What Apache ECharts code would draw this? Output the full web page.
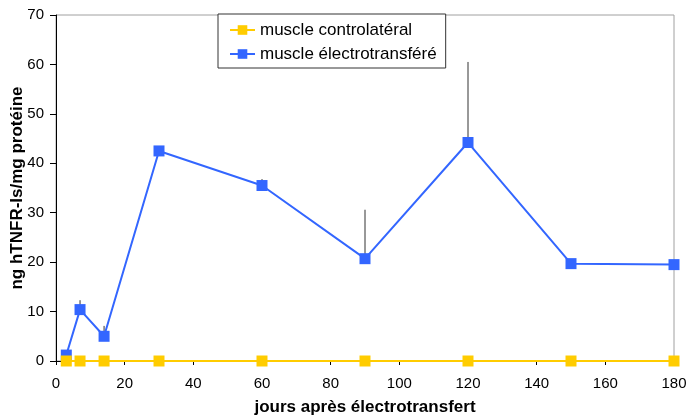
<!DOCTYPE html>
<html>
<head>
<meta charset="utf-8">
<script src="https://cdn.jsdelivr.net/npm/echarts@6/dist/echarts.min.js"></script>
<style>html,body{margin:0;padding:0;background:#fff}#c{width:686px;height:418px}</style>
</head>
<body>
<div id="c"></div>
<script>
var days = [3, 7, 14, 30, 60, 90, 120, 150, 180];
var controlateral = [0, 0, 0, 0, 0, 0, 0, 0, 0];
var electro = [1.2, 10.4, 5.0, 42.5, 35.5, 20.7, 44.2, 19.7, 19.5];
var electroErrTop = [1.2, 12.3, 7.1, 42.5, 36.8, 30.6, 60.5, 19.7, 19.5];
var xTicks = [0, 20, 40, 60, 80, 100, 120, 140, 160, 180];
var yTicks = [0, 10, 20, 30, 40, 50, 60, 70];

var FONT = 'Liberation Sans, Arial, sans-serif';
var chart = echarts.init(document.getElementById('c'));
var errData = days.map(function (d, i) { return [d, electro[i], electroErrTop[i]]; });

chart.setOption({
  animation: false,
  grid: { left: 56, right: 12, top: 15, bottom: 57, show: true, borderColor: '#a0a0a0', borderWidth: 1,
          containLabel: false, outerBoundsMode: 'none' },
  legend: {
    data: ['muscle controlatéral', 'muscle électrotransféré'],
    orient: 'vertical',
    left: 218, top: 14,
    padding: [7, 9, 5, 11],
    itemGap: 6,
    itemWidth: 25, itemHeight: 12,
    borderColor: '#333', borderWidth: 1,
    backgroundColor: '#fff',
    textStyle: { fontFamily: FONT, fontSize: 17, lineHeight: 18, color: '#000' }
  },
  xAxis: {
    type: 'value', min: 0, max: 180, interval: 20,
    name: 'jours après électrotransfert', nameLocation: 'middle', nameGap: 38,
    nameMoveOverlap: false,
    nameTextStyle: { fontFamily: FONT, fontSize: 17, fontWeight: 'bold', color: '#000' },
    axisLine: { show: true, lineStyle: { color: '#000', width: 1 } },
    axisTick: { show: true, length: 4, lineStyle: { color: '#000' } },
    axisLabel: { fontFamily: FONT, fontSize: 15, color: '#000', margin: 15,
      formatter: function (v) { return xTicks.indexOf(v) >= 0 ? String(v) : ''; } },
    splitLine: { show: false }
  },
  yAxis: {
    type: 'value', min: 0, max: 70, interval: 10,
    name: 'ng hTNFR-Is/mg protéine', nameLocation: 'middle', nameGap: 30,
    nameMoveOverlap: false,
    nameTextStyle: { fontFamily: FONT, fontSize: 17, fontWeight: 'bold', color: '#000' },
    axisLine: { show: true, lineStyle: { color: '#000', width: 1 } },
    axisTick: { show: true, length: 6, lineStyle: { color: '#000' } },
    axisLabel: { fontFamily: FONT, fontSize: 15, color: '#000', margin: 12,
      formatter: function (v) { return yTicks.indexOf(v) >= 0 ? String(v) : ''; } },
    splitLine: { show: false }
  },
  series: [
    {
      name: 'errors', type: 'custom', z: 1,
      data: errData,
      renderItem: function (params, api) {
        var p0 = api.coord([api.value(0), api.value(1)]);
        var p1 = api.coord([api.value(0), api.value(2)]);
        return { type: 'line', shape: { x1: p0[0], y1: p0[1], x2: p1[0], y2: p1[1] },
          style: { stroke: '#333', lineWidth: 1 } };
      }
    },
    {
      name: 'muscle électrotransféré', type: 'line', z: 3,
      data: days.map(function (d, i) { return [d, electro[i]]; }),
      symbol: 'rect', symbolSize: 11,
      lineStyle: { color: '#3366ff', width: 2 },
      itemStyle: { color: '#3366ff' }
    },
    {
      name: 'muscle controlatéral', type: 'line', z: 4,
      data: days.map(function (d, i) { return [d, controlateral[i]]; }),
      symbol: 'rect', symbolSize: 11,
      lineStyle: { color: '#ffcc00', width: 2 },
      itemStyle: { color: '#ffcc00' }
    }
  ]
});
</script>
</body>
</html>
